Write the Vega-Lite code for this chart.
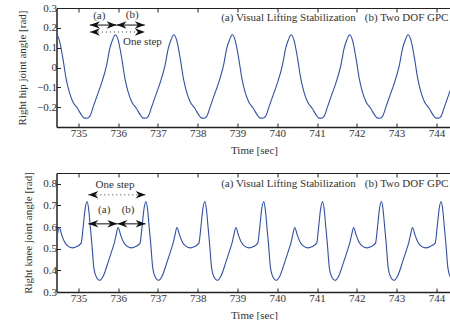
{
 "$schema": "https://vega.github.io/schema/vega-lite/v6.json",
 "padding": {"left": 15.5, "top": 2, "right": 0, "bottom": 0},
 "bounds": "flush",
 "spacing": 46,
 "config": {
  "view": {"stroke": null},
  "axis": {"labelFont": "Liberation Serif", "titleFont": "Liberation Serif", "labelFontSize": 11, "titleFontSize": 11, "titleFontWeight": "normal", "labelColor": "#333", "titleColor": "#333", "domainColor": "#222", "tickColor": "#222", "grid": false, "tickSize": -4, "labelPadding": 4},
  "text": {"font": "Liberation Serif", "fontSize": 11, "color": "#333"}
 },
 "datasets": {
  "hip": [
   {"t":734.38,"v":0.140},{"t":734.45,"v":0.165},{"t":734.52,"v":0.138},{"t":734.61,"v":0.046},{"t":734.69,"v":-0.055},{"t":734.77,"v":-0.123},{"t":734.86,"v":-0.173},{"t":734.98,"v":-0.207},{"t":735.08,"v":-0.240},{"t":735.14,"v":-0.254},{"t":735.21,"v":-0.256},
   {"t":735.29,"v":-0.245},{"t":735.37,"v":-0.200},{"t":735.46,"v":-0.148},{"t":735.58,"v":-0.080},{"t":735.71,"v":0.012},{"t":735.79,"v":0.096},{"t":735.86,"v":0.140},{"t":735.93,"v":0.165},{"t":736.00,"v":0.138},{"t":736.09,"v":0.046},{"t":736.17,"v":-0.055},{"t":736.25,"v":-0.123},{"t":736.34,"v":-0.173},{"t":736.46,"v":-0.207},{"t":736.56,"v":-0.240},{"t":736.62,"v":-0.254},{"t":736.69,"v":-0.256},
   {"t":736.76,"v":-0.245},{"t":736.84,"v":-0.200},{"t":736.93,"v":-0.148},{"t":737.05,"v":-0.080},{"t":737.18,"v":0.012},{"t":737.26,"v":0.096},{"t":737.33,"v":0.140},{"t":737.40,"v":0.165},{"t":737.47,"v":0.138},{"t":737.56,"v":0.046},{"t":737.64,"v":-0.055},{"t":737.72,"v":-0.123},{"t":737.81,"v":-0.173},{"t":737.93,"v":-0.207},{"t":738.03,"v":-0.240},{"t":738.09,"v":-0.254},{"t":738.16,"v":-0.256},
   {"t":738.23,"v":-0.245},{"t":738.31,"v":-0.200},{"t":738.40,"v":-0.148},{"t":738.52,"v":-0.080},{"t":738.65,"v":0.012},{"t":738.73,"v":0.096},{"t":738.80,"v":0.140},{"t":738.87,"v":0.165},{"t":738.94,"v":0.138},{"t":739.03,"v":0.046},{"t":739.11,"v":-0.055},{"t":739.19,"v":-0.123},{"t":739.28,"v":-0.173},{"t":739.40,"v":-0.207},{"t":739.50,"v":-0.240},{"t":739.56,"v":-0.254},{"t":739.63,"v":-0.256},
   {"t":739.71,"v":-0.245},{"t":739.79,"v":-0.200},{"t":739.88,"v":-0.148},{"t":740.00,"v":-0.080},{"t":740.13,"v":0.012},{"t":740.21,"v":0.096},{"t":740.28,"v":0.140},{"t":740.35,"v":0.165},{"t":740.42,"v":0.138},{"t":740.51,"v":0.046},{"t":740.59,"v":-0.055},{"t":740.67,"v":-0.123},{"t":740.76,"v":-0.173},{"t":740.88,"v":-0.207},{"t":740.98,"v":-0.240},{"t":741.04,"v":-0.254},{"t":741.11,"v":-0.256},
   {"t":741.18,"v":-0.245},{"t":741.26,"v":-0.200},{"t":741.35,"v":-0.148},{"t":741.47,"v":-0.080},{"t":741.60,"v":0.012},{"t":741.68,"v":0.096},{"t":741.75,"v":0.140},{"t":741.82,"v":0.165},{"t":741.89,"v":0.138},{"t":741.98,"v":0.046},{"t":742.06,"v":-0.055},{"t":742.14,"v":-0.123},{"t":742.23,"v":-0.173},{"t":742.35,"v":-0.207},{"t":742.45,"v":-0.240},{"t":742.51,"v":-0.254},{"t":742.58,"v":-0.256},
   {"t":742.65,"v":-0.245},{"t":742.73,"v":-0.200},{"t":742.82,"v":-0.148},{"t":742.94,"v":-0.080},{"t":743.07,"v":0.012},{"t":743.15,"v":0.096},{"t":743.22,"v":0.140},{"t":743.29,"v":0.165},{"t":743.36,"v":0.138},{"t":743.45,"v":0.046},{"t":743.53,"v":-0.055},{"t":743.61,"v":-0.123},{"t":743.70,"v":-0.173},{"t":743.82,"v":-0.207},{"t":743.92,"v":-0.240},{"t":743.98,"v":-0.254},{"t":744.05,"v":-0.256},
   {"t":744.12,"v":-0.245},{"t":744.20,"v":-0.200},{"t":744.29,"v":-0.148},{"t":744.41,"v":-0.080},{"t":744.54,"v":0.012}
  ],
  "knee": [
   {"t":734.36,"v":0.49},{"t":734.43,"v":0.532},{"t":734.47,"v":0.565},{"t":734.52,"v":0.598},{"t":734.58,"v":0.565},{"t":734.65,"v":0.532},{"t":734.74,"v":0.512},{"t":734.86,"v":0.504},{"t":734.96,"v":0.510},
   {"t":735.07,"v":0.526},{"t":735.12,"v":0.60},{"t":735.17,"v":0.685},{"t":735.22,"v":0.718},{"t":735.26,"v":0.68},{"t":735.30,"v":0.60},{"t":735.34,"v":0.52},{"t":735.39,"v":0.41},{"t":735.45,"v":0.37},{"t":735.53,"v":0.354},{"t":735.62,"v":0.372},{"t":735.75,"v":0.439},{"t":735.84,"v":0.49},{"t":735.91,"v":0.532},{"t":735.95,"v":0.565},{"t":736.00,"v":0.598},{"t":736.06,"v":0.565},{"t":736.13,"v":0.532},{"t":736.22,"v":0.512},{"t":736.34,"v":0.504},{"t":736.44,"v":0.510},
   {"t":736.55,"v":0.526},{"t":736.60,"v":0.60},{"t":736.65,"v":0.685},{"t":736.70,"v":0.718},{"t":736.74,"v":0.68},{"t":736.78,"v":0.60},{"t":736.82,"v":0.52},{"t":736.87,"v":0.41},{"t":736.93,"v":0.37},{"t":737.01,"v":0.354},{"t":737.10,"v":0.372},{"t":737.23,"v":0.439},{"t":737.32,"v":0.49},{"t":737.39,"v":0.532},{"t":737.43,"v":0.565},{"t":737.48,"v":0.598},{"t":737.54,"v":0.565},{"t":737.61,"v":0.532},{"t":737.70,"v":0.512},{"t":737.82,"v":0.504},{"t":737.92,"v":0.510},
   {"t":738.03,"v":0.526},{"t":738.08,"v":0.60},{"t":738.13,"v":0.685},{"t":738.18,"v":0.718},{"t":738.22,"v":0.68},{"t":738.26,"v":0.60},{"t":738.30,"v":0.52},{"t":738.35,"v":0.41},{"t":738.41,"v":0.37},{"t":738.49,"v":0.354},{"t":738.58,"v":0.372},{"t":738.71,"v":0.439},{"t":738.80,"v":0.49},{"t":738.87,"v":0.532},{"t":738.91,"v":0.565},{"t":738.96,"v":0.598},{"t":739.02,"v":0.565},{"t":739.09,"v":0.532},{"t":739.18,"v":0.512},{"t":739.30,"v":0.504},{"t":739.40,"v":0.510},
   {"t":739.51,"v":0.526},{"t":739.56,"v":0.60},{"t":739.61,"v":0.685},{"t":739.66,"v":0.718},{"t":739.70,"v":0.68},{"t":739.74,"v":0.60},{"t":739.78,"v":0.52},{"t":739.83,"v":0.41},{"t":739.89,"v":0.37},{"t":739.97,"v":0.354},{"t":740.06,"v":0.372},{"t":740.19,"v":0.439},{"t":740.28,"v":0.49},{"t":740.35,"v":0.532},{"t":740.39,"v":0.565},{"t":740.44,"v":0.598},{"t":740.50,"v":0.565},{"t":740.57,"v":0.532},{"t":740.66,"v":0.512},{"t":740.78,"v":0.504},{"t":740.88,"v":0.510},
   {"t":740.99,"v":0.526},{"t":741.04,"v":0.60},{"t":741.09,"v":0.685},{"t":741.14,"v":0.718},{"t":741.18,"v":0.68},{"t":741.22,"v":0.60},{"t":741.26,"v":0.52},{"t":741.31,"v":0.41},{"t":741.37,"v":0.37},{"t":741.45,"v":0.354},{"t":741.54,"v":0.372},{"t":741.67,"v":0.439},{"t":741.76,"v":0.49},{"t":741.83,"v":0.532},{"t":741.87,"v":0.565},{"t":741.92,"v":0.598},{"t":741.98,"v":0.565},{"t":742.05,"v":0.532},{"t":742.14,"v":0.512},{"t":742.26,"v":0.504},{"t":742.36,"v":0.510},
   {"t":742.47,"v":0.526},{"t":742.52,"v":0.60},{"t":742.57,"v":0.685},{"t":742.62,"v":0.718},{"t":742.66,"v":0.68},{"t":742.70,"v":0.60},{"t":742.74,"v":0.52},{"t":742.79,"v":0.41},{"t":742.85,"v":0.37},{"t":742.93,"v":0.354},{"t":743.02,"v":0.372},{"t":743.15,"v":0.439},{"t":743.24,"v":0.49},{"t":743.31,"v":0.532},{"t":743.35,"v":0.565},{"t":743.40,"v":0.598},{"t":743.46,"v":0.565},{"t":743.53,"v":0.532},{"t":743.62,"v":0.512},{"t":743.74,"v":0.504},{"t":743.84,"v":0.510},
   {"t":743.97,"v":0.526},{"t":744.02,"v":0.60},{"t":744.07,"v":0.685},{"t":744.12,"v":0.718},{"t":744.16,"v":0.68},{"t":744.20,"v":0.60},{"t":744.24,"v":0.52},{"t":744.29,"v":0.41},{"t":744.35,"v":0.37},{"t":744.43,"v":0.354},{"t":744.52,"v":0.372}
  ],
  "hipSeg": [
   {"t":735.29,"t2":735.96,"v":0.214,"kind":"solid"},
   {"t":735.96,"t2":736.67,"v":0.214,"kind":"solid"},
   {"t":735.29,"t2":736.67,"v":0.179,"kind":"dotted"}
  ],
  "hipHead": [
   {"t":735.29,"v":0.214,"dir":"left"},{"t":735.96,"v":0.214,"dir":"right"},
   {"t":735.96,"v":0.214,"dir":"left"},{"t":736.67,"v":0.214,"dir":"right"},
   {"t":735.29,"v":0.179,"dir":"left"},{"t":736.67,"v":0.179,"dir":"right"}
  ],
  "hipText": [
   {"t":735.525,"v":0.26,"label":"(a)"},
   {"t":736.354,"v":0.265,"label":"(b)"},
   {"t":736.61,"v":0.130,"label":"One step"}
  ],
  "hipLegend": [
   {"t":738.59,"v":0.248,"label":"(a) Visual Lifting Stabilization"},
   {"t":742.20,"v":0.248,"label":"(b) Two DOF GPC"}
  ],
  "kneeSeg": [
   {"t":735.25,"t2":735.98,"v":0.615,"kind":"solid"},
   {"t":735.98,"t2":736.69,"v":0.615,"kind":"solid"},
   {"t":735.25,"t2":736.69,"v":0.749,"kind":"dotted"}
  ],
  "kneeHead": [
   {"t":735.25,"v":0.615,"dir":"left"},{"t":735.98,"v":0.615,"dir":"right"},
   {"t":735.98,"v":0.615,"dir":"left"},{"t":736.69,"v":0.615,"dir":"right"},
   {"t":735.25,"v":0.749,"dir":"left"},{"t":736.69,"v":0.749,"dir":"right"}
  ],
  "kneeText": [
   {"t":735.65,"v":0.679,"label":"(a)"},
   {"t":736.25,"v":0.679,"label":"(b)"},
   {"t":735.92,"v":0.795,"label":"One step"}
  ],
  "kneeLegend": [
   {"t":738.59,"v":0.799,"label":"(a) Visual Lifting Stabilization"},
   {"t":742.20,"v":0.799,"label":"(b) Two DOF GPC"}
  ]
 },
 "vconcat": [
  {
   "width": 395, "height": 119,
   "resolve": {"axis": {"x": "independent", "y": "shared"}},
   "encoding": {
    "y": {"field": "v", "type": "quantitative", "title": "Right hip joint angle [rad]", "scale": {"domain": [-0.3, 0.3], "nice": false, "zero": false}, "axis": {"values": [-0.2,-0.1,0,0.1,0.2,0.3], "format": ".1~f", "titleX": -34, "titleBaseline": "middle", "domainWidth": 1.5}}
   },
   "layer": [
    {"data": {"name": "hip"},
     "mark": {"type": "line", "clip": true, "color": "#2f4fb0", "strokeWidth": 1.1, "interpolate": "monotone"},
     "encoding": {
      "x": {"field": "t", "type": "quantitative", "title": "Time [sec]", "scale": {"domain": [734.45, 744.38], "nice": false, "zero": false}, "axis": {"values": [735,736,737,738,739,740,741,742,743,744], "format": "d", "titleY": 23, "titleBaseline": "middle", "domainWidth": 1.5}}
     }},
    {"data": {"name": "hipSeg"}, "transform": [{"filter": "datum.kind === 'solid'"}],
     "mark": {"type": "rule", "color": "#111", "strokeWidth": 1},
     "encoding": {
      "x": {"field": "t", "type": "quantitative", "axis": {"orient": "top", "labels": false, "title": null, "values": [735,736,737,738,739,740,741,742,743,744], "domainWidth": 1}},
      "x2": {"field": "t2"}
     }},
    {"data": {"name": "hipSeg"}, "transform": [{"filter": "datum.kind === 'dotted'"}],
     "mark": {"type": "rule", "color": "#333", "strokeWidth": 1, "strokeDash": [1, 3]},
     "encoding": {
      "x": {"field": "t", "type": "quantitative", "axis": null},
      "x2": {"field": "t2"}
     }},
    {"data": {"name": "hipHead"}, "transform": [{"filter": "datum.dir === 'right'"}],
     "mark": {"type": "point", "shape": "M1,0L-1,-0.75L-0.4,0L-1,0.75Z", "filled": true, "size": 100, "xOffset": -5, "color": "#111", "opacity": 1},
     "encoding": {
      "x": {"field": "t", "type": "quantitative", "axis": null}
     }},
    {"data": {"name": "hipHead"}, "transform": [{"filter": "datum.dir === 'left'"}],
     "mark": {"type": "point", "shape": "M-1,0L1,-0.75L0.4,0L1,0.75Z", "filled": true, "size": 100, "xOffset": 5, "color": "#111", "opacity": 1},
     "encoding": {
      "x": {"field": "t", "type": "quantitative", "axis": null}
     }},
    {"data": {"name": "hipText"},
     "mark": {"type": "text", "align": "center", "baseline": "middle"},
     "encoding": {
      "x": {"field": "t", "type": "quantitative", "axis": null},
      "text": {"field": "label"}
     }},
    {"data": {"name": "hipLegend"},
     "mark": {"type": "text", "align": "left", "baseline": "middle"},
     "encoding": {
      "x": {"field": "t", "type": "quantitative", "axis": null},
      "text": {"field": "label"}
     }}
   ]
  },
  {
   "width": 395, "height": 119,
   "resolve": {"axis": {"x": "independent", "y": "shared"}},
   "encoding": {
    "y": {"field": "v", "type": "quantitative", "title": "Right knee joint angle [rad]", "scale": {"domain": [0.3, 0.85], "nice": false, "zero": false}, "axis": {"values": [0.3,0.4,0.5,0.6,0.7,0.8], "format": ".1f", "titleX": -28, "titleBaseline": "middle", "domainWidth": 1.5}}
   },
   "layer": [
    {"data": {"name": "knee"},
     "mark": {"type": "line", "clip": true, "color": "#2f4fb0", "strokeWidth": 1.1, "interpolate": "monotone"},
     "encoding": {
      "x": {"field": "t", "type": "quantitative", "title": "Time [sec]", "scale": {"domain": [734.45, 744.38], "nice": false, "zero": false}, "axis": {"values": [735,736,737,738,739,740,741,742,743,744], "format": "d", "titleY": 23, "titleBaseline": "middle", "domainWidth": 1.5}}
     }},
    {"data": {"name": "kneeSeg"}, "transform": [{"filter": "datum.kind === 'solid'"}],
     "mark": {"type": "rule", "color": "#111", "strokeWidth": 1},
     "encoding": {
      "x": {"field": "t", "type": "quantitative", "axis": {"orient": "top", "labels": false, "title": null, "values": [735,736,737,738,739,740,741,742,743,744], "domainWidth": 1}},
      "x2": {"field": "t2"}
     }},
    {"data": {"name": "kneeSeg"}, "transform": [{"filter": "datum.kind === 'dotted'"}],
     "mark": {"type": "rule", "color": "#333", "strokeWidth": 1, "strokeDash": [1, 3]},
     "encoding": {
      "x": {"field": "t", "type": "quantitative", "axis": null},
      "x2": {"field": "t2"}
     }},
    {"data": {"name": "kneeHead"}, "transform": [{"filter": "datum.dir === 'right'"}],
     "mark": {"type": "point", "shape": "M1,0L-1,-0.75L-0.4,0L-1,0.75Z", "filled": true, "size": 100, "xOffset": -5, "color": "#111", "opacity": 1},
     "encoding": {
      "x": {"field": "t", "type": "quantitative", "axis": null}
     }},
    {"data": {"name": "kneeHead"}, "transform": [{"filter": "datum.dir === 'left'"}],
     "mark": {"type": "point", "shape": "M-1,0L1,-0.75L0.4,0L1,0.75Z", "filled": true, "size": 100, "xOffset": 5, "color": "#111", "opacity": 1},
     "encoding": {
      "x": {"field": "t", "type": "quantitative", "axis": null}
     }},
    {"data": {"name": "kneeText"},
     "mark": {"type": "text", "align": "center", "baseline": "middle"},
     "encoding": {
      "x": {"field": "t", "type": "quantitative", "axis": null},
      "text": {"field": "label"}
     }},
    {"data": {"name": "kneeLegend"},
     "mark": {"type": "text", "align": "left", "baseline": "middle"},
     "encoding": {
      "x": {"field": "t", "type": "quantitative", "axis": null},
      "text": {"field": "label"}
     }}
   ]
  }
 ]
}
